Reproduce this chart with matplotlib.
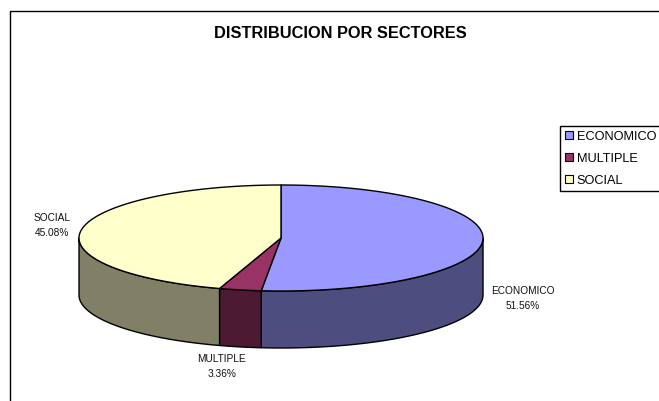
import numpy as np
import matplotlib
matplotlib.use("Agg")
import matplotlib.pyplot as plt
from matplotlib.patches import Patch, Polygon

# Datos
sectores = ["ECONOMICO", "MULTIPLE", "SOCIAL"]
porcentajes = [51.56, 3.36, 45.08]
etiquetas = ["51.56%", "3.36%", "45.08%"]
colores = ["#9999FF", "#993366", "#FFFFCC"]
colores_lado = ["#4D4D80", "#4D1A33", "#808066"]

plt.rcParams['font.family'] = ['Liberation Sans', 'DejaVu Sans']

fig = plt.figure(figsize=(6.59, 4.01), dpi=100)
ax = fig.add_axes([0, 0, 1, 1])
ax.set_xlim(0, 659)
ax.set_ylim(401, 0)
ax.axis("off")

# marco del grafico (solo se ve arriba y a la izquierda)
ax.plot([10.2, 10.2, 659], [401, 10.7, 10.7], color="black", lw=1.0, solid_capstyle="butt")

cx, cy = 281, 238
rx, ry = 202, 53
prof = 57


def punto(t):
    # t en grados, sentido horario desde las 12
    r = np.radians(t)
    return cx + rx * np.sin(r), cy - ry * np.cos(r)


angulos = np.concatenate([[0], np.cumsum(porcentajes) * 3.6])

# lados de la torta, solo la parte de adelante
for i in range(len(sectores)):
    a = max(angulos[i], 90)
    b = min(angulos[i + 1], 270)
    if b <= a:
        continue
    t = np.linspace(a, b, 120)
    x, y = punto(t)
    xs = np.concatenate([x, x[::-1]])
    ys = np.concatenate([y, y[::-1] + prof])
    ax.add_patch(Polygon(np.column_stack([xs, ys]), closed=True, fc=colores_lado[i],
                         ec="black", lw=1.0, joinstyle="round"))

# tapa
for i in range(len(sectores)):
    t = np.linspace(angulos[i], angulos[i + 1], 200)
    x, y = punto(t)
    xs = np.concatenate([[cx], x])
    ys = np.concatenate([[cy], y])
    ax.add_patch(Polygon(np.column_stack([xs, ys]), closed=True, fc=colores[i],
                         ec="black", lw=1.0, joinstyle="round"))

ax.text(340.5, 33.5, "DISTRIBUCION POR SECTORES", ha="center", va="center",
        fontsize=11.8, fontweight="bold")

# etiquetas
pos_etq = [(522.5, 298.5), (221.5, 366.5), (52, 225.5)]
for i in range(len(sectores)):
    ax.text(pos_etq[i][0], pos_etq[i][1], sectores[i] + "\n" + etiquetas[i], ha="center", va="center",
            fontsize=7.3, linespacing=1.72, color="#111111")

handles = [Patch(fc=colores[i], ec="black", lw=0.8) for i in range(len(sectores))]
leg = ax.legend(handles, sectores, loc="upper left", bbox_to_anchor=(560 / 659, 1 - 126 / 401),
                borderaxespad=0, fontsize=9.2, frameon=True, fancybox=False, edgecolor="black",
                framealpha=1, handlelength=0.62, handleheight=0.62, handletextpad=0.32,
                labelspacing=0.78, borderpad=0.36)
leg.get_frame().set_linewidth(1.0)

fig.savefig("out.png", dpi=100)
